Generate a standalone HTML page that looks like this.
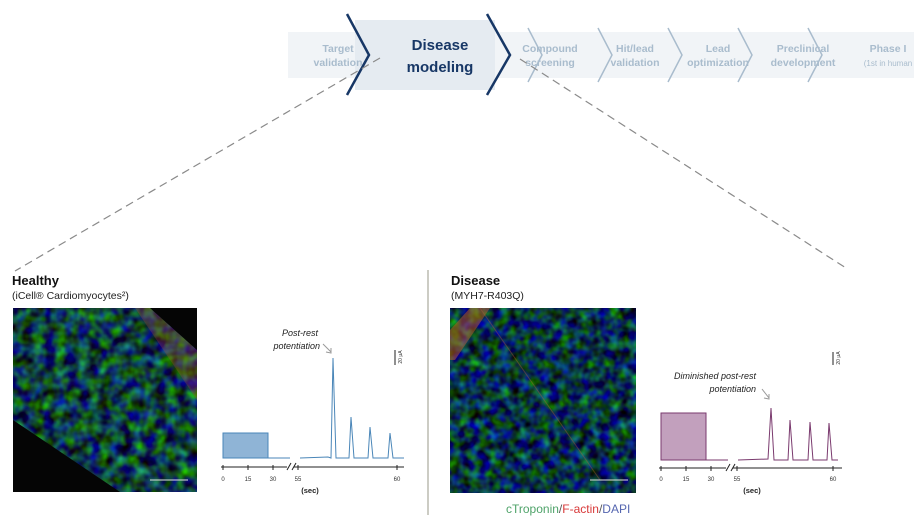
<!DOCTYPE html>
<html><head><meta charset="utf-8"><style>
body{margin:0;background:#fff;}
svg{display:block;font-family:"Liberation Sans",sans-serif;}
</style></head><body>
<svg width="914" height="532" viewBox="0 0 914 532" xmlns="http://www.w3.org/2000/svg">
<defs>
<filter id="tex" x="0" y="0" width="100%" height="100%" color-interpolation-filters="sRGB">
<feTurbulence type="fractalNoise" baseFrequency="0.09" numOctaves="2" seed="3" result="n"/>
<feColorMatrix in="n" type="matrix" values="0.2 0 0 0 -0.04  1.0 0 -0.6 0 0.05  -0.5 1.0 0 0 0  0 0 0 0 1"/>
</filter>
<filter id="tex2" x="0" y="0" width="100%" height="100%" color-interpolation-filters="sRGB">
<feTurbulence type="fractalNoise" baseFrequency="0.1" numOctaves="2" seed="7" result="n"/>
<feColorMatrix in="n" type="matrix" values="0.15 0 0 0 -0.04  0.9 0 -0.6 0 0.05  -0.5 1.05 0 0 0  0 0 0 0 1"/>
</filter>
<clipPath id="band"><polygon points="13,308 150,308 197,350 197,492 120,492 13,420"/></clipPath>
</defs>

<!-- pipeline -->
<rect x="288" y="32" width="626" height="46" fill="#f1f4f7"/>
<rect x="355" y="20" width="140" height="70" fill="#e5ebf1"/>
<g fill="none" stroke="#a9bccd" stroke-width="1.5">
<polyline points="528,28 542,55 528,82"/>
<polyline points="598,28 612,55 598,82"/>
<polyline points="668,28 682,55 668,82"/>
<polyline points="738,28 752,55 738,82"/>
<polyline points="808,28 822,55 808,82"/>
</g>
<g fill="none" stroke="#173766" stroke-width="2.5">
<polyline points="347,14 369,55 347,95"/>
<polyline points="487,14 510,55 487,95"/>
</g>
<g font-size="10.5" font-weight="bold" fill="#a9bccd" text-anchor="middle">
<text x="338" y="52">Target</text><text x="338" y="66">validation</text>
<text x="550" y="52">Compound</text><text x="550" y="66">screening</text>
<text x="635" y="52">Hit/lead</text><text x="635" y="66">validation</text>
<text x="718" y="52">Lead</text><text x="718" y="66">optimization</text>
<text x="803" y="52">Preclinical</text><text x="803" y="66">development</text>
<text x="888" y="52">Phase I</text><text x="888" y="66" font-size="8" font-weight="normal">(1st in human</text>
</g>
<g font-size="15" font-weight="bold" fill="#173766" text-anchor="middle">
<text x="440" y="50">Disease</text><text x="440" y="72">modeling</text>
</g>
<g stroke="#8a8a8a" stroke-width="1.2" stroke-dasharray="8,5">
<line x1="380" y1="58" x2="15" y2="271"/>
<line x1="520" y1="59" x2="846" y2="268"/>
</g>
<line x1="428" y1="270" x2="428" y2="515" stroke="#9a9a8a" stroke-width="1"/>

<!-- headers -->
<text x="12" y="285" font-size="13" font-weight="bold" fill="#111">Healthy</text>
<text x="12" y="299" font-size="10.5" fill="#222">(iCell® Cardiomyocytes²)</text>
<text x="451" y="285" font-size="13" font-weight="bold" fill="#111">Disease</text>
<text x="451" y="299" font-size="10.5" fill="#222">(MYH7-R403Q)</text>

<!-- healthy image -->
<rect x="13" y="308" width="184" height="184" fill="#050505"/>
<g clip-path="url(#band)">
<rect x="13" y="308" width="184" height="184" filter="url(#tex)"/>
<polygon points="135,308 150,308 197,350 197,400" fill="#b04a30" opacity="0.3"/>
<polygon points="13,420 13,440 70,492 100,492" fill="#b04a30" opacity="0.25"/>
</g>
<line x1="150" y1="480" x2="188" y2="480" stroke="#ddd" stroke-width="1"/>

<!-- disease image -->
<rect x="450" y="308" width="186" height="185" filter="url(#tex2)"/>
<polygon points="450,330 470,308 490,308 455,360 450,360" fill="#c0602a" opacity="0.5"/>
<line x1="480" y1="308" x2="600" y2="480" stroke="#b05a3a" stroke-width="1" opacity="0.4"/>
<line x1="590" y1="480" x2="628" y2="480" stroke="#ddd" stroke-width="1"/>

<!-- healthy chart -->
<g fill="none" stroke="#4a86b8" stroke-width="1">
<rect x="223" y="433" width="45" height="25" fill="#8fb4d6" stroke="#4a86b8"/>
<polyline points="268,458 290,458"/>
<polyline points="300,458 328,457 331,458 333,358 336,458 349,458 351,417 354,458 368,458 370,427 373,458 388,458 390,433 393,458 404,458"/>
</g>
<g stroke="#222" stroke-width="1" fill="none">
<line x1="221" y1="467" x2="287" y2="467"/><line x1="294" y1="467" x2="404" y2="467"/>
<line x1="287" y1="470" x2="291" y2="463"/><line x1="292" y1="470" x2="296" y2="463"/>
<line x1="395" y1="350" x2="395" y2="365"/>
<line x1="223" y1="465" x2="223" y2="470"/><line x1="248" y1="465" x2="248" y2="470"/><line x1="273" y1="465" x2="273" y2="470"/><line x1="298" y1="465" x2="298" y2="470"/><line x1="397" y1="465" x2="397" y2="470"/>
</g>
<g font-size="6" fill="#333" text-anchor="middle">
<text x="223" y="481">0</text><text x="248" y="481">15</text><text x="273" y="481">30</text><text x="298" y="481">55</text><text x="397" y="481">60</text>
</g>
<text x="310" y="493" font-size="7.5" font-weight="bold" fill="#222" text-anchor="middle">(sec)</text>
<text x="402" y="357" font-size="5" fill="#333" transform="rotate(-90 402 357)" text-anchor="middle">20 μA</text>
<g font-size="9" font-style="italic" fill="#222" text-anchor="end">
<text x="318" y="336">Post-rest</text><text x="320" y="349">potentiation</text>
</g>
<polyline points="323,344 331,352" stroke="#999" fill="none"/><polyline points="326,352 331,353 331,348" stroke="#999" fill="none"/>

<!-- disease chart -->
<g fill="none" stroke="#7a3a6e" stroke-width="1">
<rect x="661" y="413" width="45" height="47" fill="#c2a0bd" stroke="#7a3a6e"/>
<polyline points="706,460 728,460"/>
<polyline points="738,460 768,459 771,408 774,460 788,460 790,420 793,460 808,460 810,422 813,460 827,460 829,423 832,460 838,460"/>
</g>
<g stroke="#222" stroke-width="1" fill="none">
<line x1="659" y1="468" x2="726" y2="468"/><line x1="733" y1="468" x2="842" y2="468"/>
<line x1="726" y1="471" x2="730" y2="464"/><line x1="731" y1="471" x2="735" y2="464"/>
<line x1="833" y1="352" x2="833" y2="365"/>
<line x1="661" y1="466" x2="661" y2="471"/><line x1="686" y1="466" x2="686" y2="471"/><line x1="711" y1="466" x2="711" y2="471"/><line x1="737" y1="466" x2="737" y2="471"/><line x1="833" y1="466" x2="833" y2="471"/>
</g>
<g font-size="6" fill="#333" text-anchor="middle">
<text x="661" y="481">0</text><text x="686" y="481">15</text><text x="711" y="481">30</text><text x="737" y="481">55</text><text x="833" y="481">60</text>
</g>
<text x="752" y="493" font-size="7.5" font-weight="bold" fill="#222" text-anchor="middle">(sec)</text>
<text x="840" y="358" font-size="5" fill="#333" transform="rotate(-90 840 358)" text-anchor="middle">20 μA</text>
<g font-size="9" font-style="italic" fill="#222" text-anchor="end">
<text x="756" y="379">Diminished post-rest</text><text x="756" y="392">potentiation</text>
</g>
<polyline points="762,389 769,398" stroke="#999" fill="none"/><polyline points="764,398 769,399 769,394" stroke="#999" fill="none"/>

<!-- legend -->
<text x="506" y="513" font-size="12"><tspan fill="#4fa36a">cTroponin</tspan><tspan fill="#555">/</tspan><tspan fill="#d83a3a">F-actin</tspan><tspan fill="#555">/</tspan><tspan fill="#5566b0">DAPI</tspan></text>
</svg>
</body></html>
